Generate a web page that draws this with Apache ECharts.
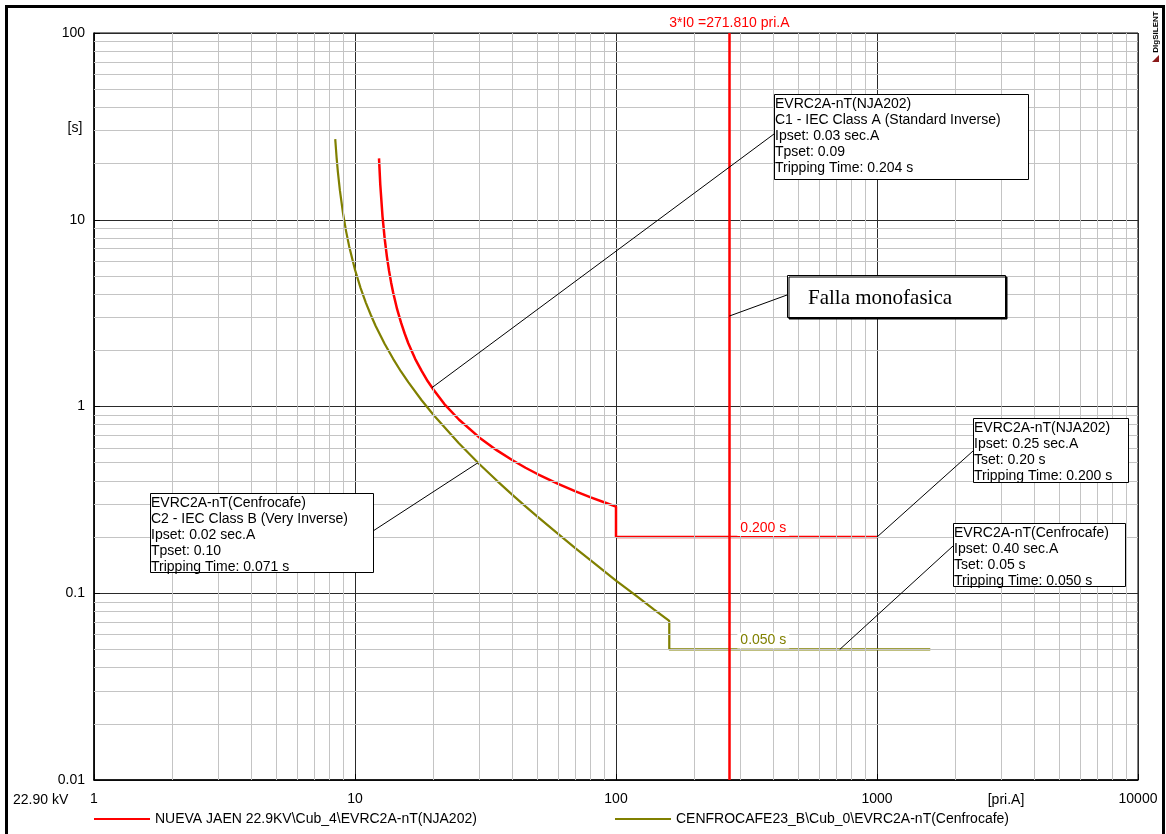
<!DOCTYPE html>
<html>
<head>
<meta charset="utf-8">
<title>Coordinación EVRC2A-nT</title>
<script src="https://cdn.jsdelivr.net/npm/echarts@6/dist/echarts.min.js"></script>
<style>
  html, body { margin: 0; padding: 0; background: #fff; }
  #main-chart { width: 1166px; height: 834px; }
</style>
</head>
<body>
<div id="main-chart"></div>
<script>
// corriente [pri.A] y tiempo [s]
const redCurrent = [12.36, 12.5, 12.75, 13, 13.25, 13.5, 13.75, 14, 14.5, 15, 15.5, 16, 17, 18, 19, 20, 22, 25, 30, 35, 40, 45, 50, 60, 70, 80, 90, 100, 100, 1000]
const redTime = [21.3, 15.4, 10.4, 7.87, 6.35, 5.34, 4.62, 4.08, 3.32, 2.82, 2.46, 2.18, 1.80, 1.55, 1.365, 1.23, 1.03, 0.852, 0.681, 0.582, 0.517, 0.470, 0.435, 0.385, 0.351, 0.326, 0.307, 0.291, 0.2, 0.2]

const oliveCurrent = [8.4, 8.5, 8.6, 8.75, 9, 9.25, 9.5, 10, 10.5, 11, 11.5, 12, 13, 14, 15, 16, 18, 20, 25, 30, 35, 40, 45, 50, 60, 70, 80, 100, 120, 140, 160, 160, 1600]
const oliveTime = [27, 21.6, 18.0, 14.4, 10.8, 8.64, 7.2, 5.4, 4.32, 3.6, 3.09, 2.7, 2.16, 1.8, 1.54, 1.35, 1.08, 0.9, 0.635, 0.491, 0.4, 0.3375, 0.292, 0.257, 0.208, 0.174, 0.15, 0.117, 0.0964, 0.0818, 0.0711, 0.05, 0.05]

const faultCurrent = 271.81
const redDefiniteTime = 0.2
const oliveDefiniteTime = 0.05

// puntos de las curvas donde apuntan las etiquetas
const redCurveAnchor = [19.7, 1.26]
const redDtAnchor = [1000, 0.2]
const oliveCurveAnchor = [29.6, 0.5]
const oliveDtAnchor = [720, 0.05]
const faultAnchor = [271.81, 3.05]

const xDecades = [1, 10, 100, 1000, 10000]
const yDecades = [0.01, 0.1, 1, 10, 100]

const redName = 'NUEVA JAEN 22.9KV\\Cub_4\\EVRC2A-nT(NJA202)'
const oliveName = 'CENFROCAFE23_B\\Cub_0\\EVRC2A-nT(Cenfrocafe)'

const FONT = 'Liberation Sans'
const RED = '#ff0000'
const OLIVE = '#808000'

function pairs(xs, ys) {
  return xs.map((x, i) => [x, ys[i]])
}

// lineas finas 2..9 de cada década
const minorX = []
const minorY = []
xDecades.slice(0, -1).forEach(d => { for (let k = 2; k <= 9; k++) minorX.push(k * d) })
yDecades.slice(0, -1).forEach(d => { for (let k = 2; k <= 9; k++) minorY.push(+(k * d).toPrecision(3)) })

const fmt = v => String(+(+v).toPrecision(6))

const minorLine = { color: '#c4c4c4', width: 1, type: 'solid' }

const chart = echarts.init(document.getElementById('main-chart'))

const option = {
  animation: false,
  textStyle: { fontFamily: FONT },
  grid: { left: 94, right: 28, top: 33, bottom: 54, show: true, borderColor: '#000', borderWidth: 1 },
  xAxis: {
    type: 'log', logBase: 10, min: xDecades[0], max: xDecades[xDecades.length - 1],
    axisLine: { lineStyle: { color: '#000', width: 1.5 } },
    axisTick: { inside: true, length: 6, lineStyle: { color: '#000' } },
    axisLabel: { color: '#000', fontSize: 14, margin: 12, formatter: fmt, showMinLabel: true, showMaxLabel: true },
    splitLine: { show: true, lineStyle: { color: '#2a2a2a', width: 1 } }
  },
  yAxis: {
    type: 'log', logBase: 10, min: yDecades[0], max: yDecades[yDecades.length - 1],
    axisLine: { lineStyle: { color: '#000', width: 1.5 } },
    axisTick: { inside: true, length: 6, lineStyle: { color: '#000' } },
    axisLabel: { color: '#000', fontSize: 14, margin: 9, formatter: fmt, showMinLabel: true, showMaxLabel: true },
    splitLine: { show: true, lineStyle: { color: '#2a2a2a', width: 1 } }
  },
  legend: [
    {
      data: [redName], left: 94, top: 812, padding: 0, icon: 'rect', itemWidth: 56, itemHeight: 2,
      textStyle: { color: '#000', fontSize: 14, fontFamily: FONT }, selectedMode: false
    },
    {
      data: [oliveName], left: 615, top: 812, padding: 0, icon: 'rect', itemWidth: 56, itemHeight: 2,
      textStyle: { color: '#000', fontSize: 14, fontFamily: FONT }, selectedMode: false
    }
  ],
  series: [
    {
      // solo para la cuadrícula fina
      name: 'grid', type: 'line', data: [[1, 1]], showSymbol: false, silent: true, z: 1,
      lineStyle: { opacity: 0 },
      markLine: {
        silent: true, symbol: ['none', 'none'], label: { show: false }, animation: false,
        lineStyle: minorLine,
        data: minorX.map(v => ({ xAxis: v })).concat(minorY.map(v => ({ yAxis: v })))
      }
    },
    {
      name: redName, type: 'line', data: pairs(redCurrent, redTime), showSymbol: false, symbol: 'none',
      lineStyle: { color: RED, width: 2.5 }, itemStyle: { color: RED }, z: 4,
      markLine: {
        silent: true, symbol: ['none', 'none'], animation: false,
        lineStyle: { color: RED, width: 2.5, type: 'solid' },
        label: {
          show: true, position: 'end', distance: 3, formatter: '3*I0 =271.810 pri.A',
          color: RED, fontSize: 14, fontFamily: FONT
        },
        data: [{ xAxis: faultCurrent }]
      },
      markPoint: {
        silent: true, symbol: 'circle', symbolSize: 0, animation: false,
        data: [{ coord: [faultCurrent, redDefiniteTime] }],
        label: {
          show: true, position: 'right', distance: 8, offset: [0, -9], formatter: '0.200 s',
          color: RED, fontSize: 14, fontFamily: FONT, backgroundColor: '#fff', padding: [1, 3]
        }
      }
    },
    {
      name: oliveName, type: 'line', data: pairs(oliveCurrent, oliveTime), showSymbol: false, symbol: 'none',
      lineStyle: { color: OLIVE, width: 2.2 }, itemStyle: { color: OLIVE }, z: 3,
      markPoint: {
        silent: true, symbol: 'circle', symbolSize: 0, animation: false,
        data: [{ coord: [faultCurrent, oliveDefiniteTime] }],
        label: {
          show: true, position: 'right', distance: 8, offset: [0, -9], formatter: '0.050 s',
          color: OLIVE, fontSize: 14, fontFamily: FONT, backgroundColor: '#fff', padding: [1, 3]
        }
      }
    }
  ]
}

chart.setOption(option)

const px = p => chart.convertToPixel({ gridIndex: 0 }, p)

// cajas de texto (posición en pixeles) y el punto de la curva al que apuntan
const boxes = [
  {
    x: 774, y: 94, w: 254, h: 85, tip: [774, 134], anchor: redCurveAnchor,
    lines: ['EVRC2A-nT(NJA202)', 'C1 - IEC Class A (Standard Inverse)', 'Ipset: 0.03 sec.A', 'Tpset: 0.09', 'Tripping Time: 0.204 s']
  },
  {
    x: 973, y: 418, w: 155, h: 64, tip: [973, 451], anchor: redDtAnchor,
    lines: ['EVRC2A-nT(NJA202)', 'Ipset: 0.25 sec.A', 'Tset: 0.20 s', 'Tripping Time: 0.200 s']
  },
  {
    x: 953, y: 523, w: 172, h: 63, tip: [953, 546], anchor: oliveDtAnchor,
    lines: ['EVRC2A-nT(Cenfrocafe)', 'Ipset: 0.40 sec.A', 'Tset: 0.05 s', 'Tripping Time: 0.050 s']
  },
  {
    x: 150, y: 493, w: 223, h: 79, tip: [373, 531], anchor: oliveCurveAnchor,
    lines: ['EVRC2A-nT(Cenfrocafe)', 'C2 - IEC Class B (Very Inverse)', 'Ipset: 0.02 sec.A', 'Tpset: 0.10', 'Tripping Time: 0.071 s']
  }
]

const graphic = []

boxes.forEach(b => {
  const a = px(b.anchor)
  graphic.push({
    type: 'line', z: 100, silent: true,
    shape: { x1: a[0], y1: a[1], x2: b.tip[0], y2: b.tip[1] },
    style: { stroke: '#000', lineWidth: 1 }
  })
  graphic.push({
    type: 'rect', z: 101, silent: true,
    shape: { x: b.x + 0.5, y: b.y + 0.5, width: b.w, height: b.h },
    style: { fill: '#fff', stroke: '#000', lineWidth: 1 }
  })
  graphic.push({
    type: 'text', z: 102, silent: true, x: b.x + 1, y: b.y + 2,
    style: {
      text: b.lines.join('\n'), fill: '#000', fontSize: 14, fontFamily: FONT,
      lineHeight: 16, verticalAlign: 'top', align: 'left'
    }
  })
})

// Falla monofasica
const fa = px(faultAnchor)
graphic.push(
  {
    type: 'line', z: 100, silent: true,
    shape: { x1: fa[0], y1: fa[1], x2: 787, y2: 295 },
    style: { stroke: '#000', lineWidth: 1 }
  },
  {
    type: 'rect', z: 101, silent: true,
    shape: { x: 787.5, y: 275.5, width: 218, height: 42 },
    style: { fill: '#fff', stroke: '#000', lineWidth: 1, shadowColor: '#000', shadowOffsetX: 1.5, shadowOffsetY: 1.5 }
  },
  {
    type: 'text', z: 102, silent: true, x: 808, y: 298,
    style: { text: 'Falla monofasica', fill: '#000', fontSize: 21, fontFamily: 'Liberation Serif', verticalAlign: 'middle' }
  }
)

// textos de ejes y marco
graphic.push(
  {
    type: 'text', silent: true, x: 75, y: 128,
    style: { text: '[s]', fill: '#000', fontSize: 14, fontFamily: FONT, align: 'center', verticalAlign: 'middle' }
  },
  {
    type: 'text', silent: true, x: 13, y: 800,
    style: { text: '22.90 kV', fill: '#000', fontSize: 14, fontFamily: FONT, verticalAlign: 'middle' }
  },
  {
    type: 'text', silent: true, x: 1006, y: 800,
    style: { text: '[pri.A]', fill: '#000', fontSize: 14, fontFamily: FONT, align: 'center', verticalAlign: 'middle' }
  },
  {
    type: 'text', silent: true, x: 1156, y: 32, rotation: Math.PI / 2,
    style: { text: 'DIgSILENT', fill: '#000', fontSize: 8, fontWeight: 'bold', fontFamily: FONT, align: 'center', verticalAlign: 'middle' }
  },
  {
    type: 'polygon', silent: true,
    shape: { points: [[1152, 62], [1159, 55], [1159, 62]] },
    style: { fill: '#8b1a1a' }
  },
  {
    type: 'rect', silent: true, z: 200,
    shape: { x: 6.5, y: 6.5, width: 1157, height: 900 },
    style: { fill: 'none', stroke: '#000', lineWidth: 3 }
  }
)

chart.setOption({ graphic: graphic })
</script>
</body>
</html>
